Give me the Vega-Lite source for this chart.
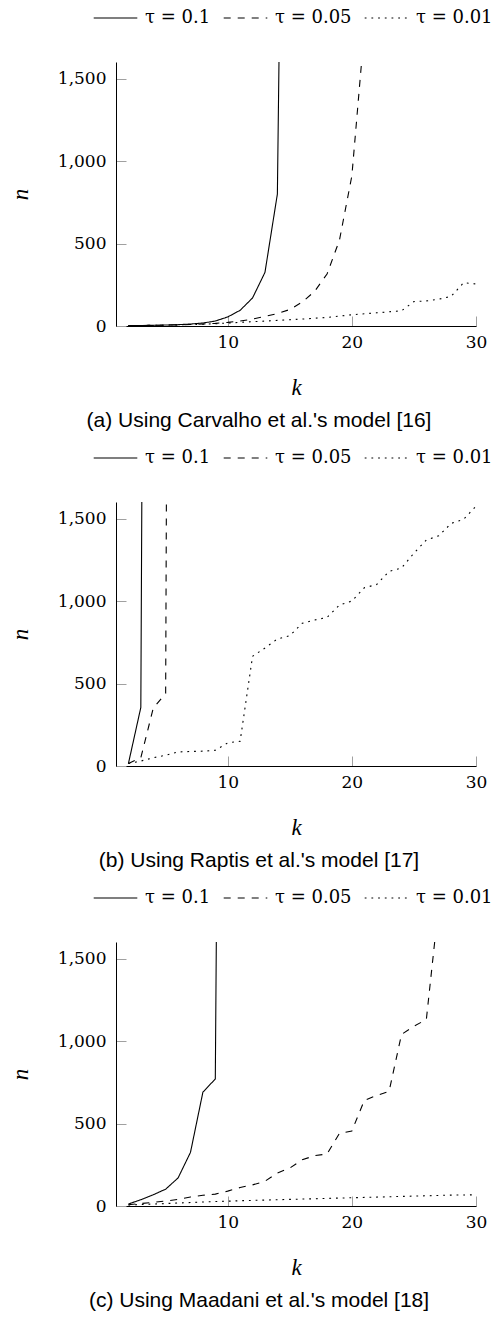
{
  "$schema": "https://vega.github.io/schema/vega-lite/v6.json",
  "padding": {"left": 9, "top": 8, "right": 5, "bottom": 5},
  "background": "white",
  "datasets": {
    "a": [
      {"k": 2, "n": 2, "tau": "τ = 0.1"}, {"k": 3, "n": 3, "tau": "τ = 0.1"}, {"k": 4, "n": 4, "tau": "τ = 0.1"}, {"k": 5, "n": 6, "tau": "τ = 0.1"}, {"k": 6, "n": 8, "tau": "τ = 0.1"}, {"k": 7, "n": 12, "tau": "τ = 0.1"}, {"k": 8, "n": 18, "tau": "τ = 0.1"}, {"k": 9, "n": 30, "tau": "τ = 0.1"}, {"k": 10, "n": 55, "tau": "τ = 0.1"}, {"k": 11, "n": 95, "tau": "τ = 0.1"}, {"k": 12, "n": 170, "tau": "τ = 0.1"}, {"k": 13, "n": 325, "tau": "τ = 0.1"}, {"k": 14, "n": 800, "tau": "τ = 0.1"}, {"k": 15, "n": 7000, "tau": "τ = 0.1"},
      {"k": 2, "n": 2, "tau": "τ = 0.05"}, {"k": 3, "n": 3, "tau": "τ = 0.05"}, {"k": 4, "n": 4, "tau": "τ = 0.05"}, {"k": 5, "n": 5, "tau": "τ = 0.05"}, {"k": 6, "n": 7, "tau": "τ = 0.05"}, {"k": 7, "n": 9, "tau": "τ = 0.05"}, {"k": 8, "n": 12, "tau": "τ = 0.05"}, {"k": 9, "n": 16, "tau": "τ = 0.05"}, {"k": 10, "n": 22, "tau": "τ = 0.05"}, {"k": 11, "n": 30, "tau": "τ = 0.05"}, {"k": 12, "n": 42, "tau": "τ = 0.05"}, {"k": 13, "n": 58, "tau": "τ = 0.05"}, {"k": 14, "n": 75, "tau": "τ = 0.05"}, {"k": 15, "n": 100, "tau": "τ = 0.05"}, {"k": 16, "n": 145, "tau": "τ = 0.05"}, {"k": 17, "n": 210, "tau": "τ = 0.05"}, {"k": 18, "n": 315, "tau": "τ = 0.05"}, {"k": 19, "n": 520, "tau": "τ = 0.05"}, {"k": 20, "n": 910, "tau": "τ = 0.05"}, {"k": 21, "n": 1790, "tau": "τ = 0.05"},
      {"k": 2, "n": 2, "tau": "τ = 0.01"}, {"k": 3, "n": 3, "tau": "τ = 0.01"}, {"k": 4, "n": 4, "tau": "τ = 0.01"}, {"k": 5, "n": 5, "tau": "τ = 0.01"}, {"k": 6, "n": 7, "tau": "τ = 0.01"}, {"k": 7, "n": 9, "tau": "τ = 0.01"}, {"k": 8, "n": 11, "tau": "τ = 0.01"}, {"k": 9, "n": 14, "tau": "τ = 0.01"}, {"k": 10, "n": 18, "tau": "τ = 0.01"}, {"k": 11, "n": 22, "tau": "τ = 0.01"}, {"k": 12, "n": 26, "tau": "τ = 0.01"}, {"k": 13, "n": 30, "tau": "τ = 0.01"}, {"k": 14, "n": 34, "tau": "τ = 0.01"}, {"k": 15, "n": 38, "tau": "τ = 0.01"}, {"k": 16, "n": 42, "tau": "τ = 0.01"}, {"k": 17, "n": 47, "tau": "τ = 0.01"}, {"k": 18, "n": 52, "tau": "τ = 0.01"}, {"k": 19, "n": 60, "tau": "τ = 0.01"}, {"k": 20, "n": 68, "tau": "τ = 0.01"}, {"k": 21, "n": 74, "tau": "τ = 0.01"}, {"k": 22, "n": 80, "tau": "τ = 0.01"}, {"k": 23, "n": 86, "tau": "τ = 0.01"}, {"k": 24, "n": 92, "tau": "τ = 0.01"}, {"k": 25, "n": 148, "tau": "τ = 0.01"}, {"k": 26, "n": 152, "tau": "τ = 0.01"}, {"k": 27, "n": 162, "tau": "τ = 0.01"}, {"k": 28, "n": 180, "tau": "τ = 0.01"}, {"k": 29, "n": 262, "tau": "τ = 0.01"}, {"k": 30, "n": 255, "tau": "τ = 0.01"}
    ],
    "b": [
      {"k": 2, "n": 15, "tau": "τ = 0.1"}, {"k": 3, "n": 355, "tau": "τ = 0.1"}, {"k": 4, "n": 16000, "tau": "τ = 0.1"},
      {"k": 2, "n": 15, "tau": "τ = 0.05"}, {"k": 3, "n": 50, "tau": "τ = 0.05"}, {"k": 4, "n": 350, "tau": "τ = 0.05"}, {"k": 5, "n": 440, "tau": "τ = 0.05"}, {"k": 6, "n": 20000, "tau": "τ = 0.05"},
      {"k": 2, "n": 15, "tau": "τ = 0.01"}, {"k": 3, "n": 30, "tau": "τ = 0.01"}, {"k": 4, "n": 50, "tau": "τ = 0.01"}, {"k": 5, "n": 65, "tau": "τ = 0.01"}, {"k": 6, "n": 85, "tau": "τ = 0.01"}, {"k": 7, "n": 88, "tau": "τ = 0.01"}, {"k": 8, "n": 90, "tau": "τ = 0.01"}, {"k": 9, "n": 95, "tau": "τ = 0.01"}, {"k": 10, "n": 140, "tau": "τ = 0.01"}, {"k": 11, "n": 150, "tau": "τ = 0.01"}, {"k": 12, "n": 665, "tau": "τ = 0.01"}, {"k": 13, "n": 715, "tau": "τ = 0.01"}, {"k": 14, "n": 770, "tau": "τ = 0.01"}, {"k": 15, "n": 790, "tau": "τ = 0.01"}, {"k": 16, "n": 865, "tau": "τ = 0.01"}, {"k": 17, "n": 885, "tau": "τ = 0.01"}, {"k": 18, "n": 900, "tau": "τ = 0.01"}, {"k": 19, "n": 975, "tau": "τ = 0.01"}, {"k": 20, "n": 1000, "tau": "τ = 0.01"}, {"k": 21, "n": 1080, "tau": "τ = 0.01"}, {"k": 22, "n": 1100, "tau": "τ = 0.01"}, {"k": 23, "n": 1180, "tau": "τ = 0.01"}, {"k": 24, "n": 1200, "tau": "τ = 0.01"}, {"k": 25, "n": 1290, "tau": "τ = 0.01"}, {"k": 26, "n": 1370, "tau": "τ = 0.01"}, {"k": 27, "n": 1395, "tau": "τ = 0.01"}, {"k": 28, "n": 1470, "tau": "τ = 0.01"}, {"k": 29, "n": 1495, "tau": "τ = 0.01"}, {"k": 30, "n": 1575, "tau": "τ = 0.01"}
    ],
    "c": [
      {"k": 2, "n": 12, "tau": "τ = 0.1"}, {"k": 3, "n": 38, "tau": "τ = 0.1"}, {"k": 4, "n": 68, "tau": "τ = 0.1"}, {"k": 5, "n": 102, "tau": "τ = 0.1"}, {"k": 6, "n": 170, "tau": "τ = 0.1"}, {"k": 7, "n": 325, "tau": "τ = 0.1"}, {"k": 8, "n": 690, "tau": "τ = 0.1"}, {"k": 9, "n": 770, "tau": "τ = 0.1"}, {"k": 10, "n": 11000, "tau": "τ = 0.1"},
      {"k": 2, "n": 8, "tau": "τ = 0.05"}, {"k": 3, "n": 15, "tau": "τ = 0.05"}, {"k": 4, "n": 22, "tau": "τ = 0.05"}, {"k": 5, "n": 30, "tau": "τ = 0.05"}, {"k": 6, "n": 40, "tau": "τ = 0.05"}, {"k": 7, "n": 55, "tau": "τ = 0.05"}, {"k": 8, "n": 65, "tau": "τ = 0.05"}, {"k": 9, "n": 72, "tau": "τ = 0.05"}, {"k": 10, "n": 90, "tau": "τ = 0.05"}, {"k": 11, "n": 112, "tau": "τ = 0.05"}, {"k": 12, "n": 128, "tau": "τ = 0.05"}, {"k": 13, "n": 150, "tau": "τ = 0.05"}, {"k": 14, "n": 200, "tau": "τ = 0.05"}, {"k": 15, "n": 230, "tau": "τ = 0.05"}, {"k": 16, "n": 280, "tau": "τ = 0.05"}, {"k": 17, "n": 305, "tau": "τ = 0.05"}, {"k": 18, "n": 315, "tau": "τ = 0.05"}, {"k": 19, "n": 440, "tau": "τ = 0.05"}, {"k": 20, "n": 455, "tau": "τ = 0.05"}, {"k": 21, "n": 640, "tau": "τ = 0.05"}, {"k": 22, "n": 670, "tau": "τ = 0.05"}, {"k": 23, "n": 695, "tau": "τ = 0.05"}, {"k": 24, "n": 1040, "tau": "τ = 0.05"}, {"k": 25, "n": 1090, "tau": "τ = 0.05"}, {"k": 26, "n": 1130, "tau": "τ = 0.05"}, {"k": 27, "n": 1830, "tau": "τ = 0.05"},
      {"k": 2, "n": 6, "tau": "τ = 0.01"}, {"k": 3, "n": 9, "tau": "τ = 0.01"}, {"k": 4, "n": 12, "tau": "τ = 0.01"}, {"k": 5, "n": 15, "tau": "τ = 0.01"}, {"k": 6, "n": 18, "tau": "τ = 0.01"}, {"k": 7, "n": 21, "tau": "τ = 0.01"}, {"k": 8, "n": 24, "tau": "τ = 0.01"}, {"k": 9, "n": 27, "tau": "τ = 0.01"}, {"k": 10, "n": 29, "tau": "τ = 0.01"}, {"k": 11, "n": 32, "tau": "τ = 0.01"}, {"k": 12, "n": 34, "tau": "τ = 0.01"}, {"k": 13, "n": 36, "tau": "τ = 0.01"}, {"k": 14, "n": 38, "tau": "τ = 0.01"}, {"k": 15, "n": 40, "tau": "τ = 0.01"}, {"k": 16, "n": 42, "tau": "τ = 0.01"}, {"k": 17, "n": 44, "tau": "τ = 0.01"}, {"k": 18, "n": 46, "tau": "τ = 0.01"}, {"k": 19, "n": 48, "tau": "τ = 0.01"}, {"k": 20, "n": 50, "tau": "τ = 0.01"}, {"k": 21, "n": 52, "tau": "τ = 0.01"}, {"k": 22, "n": 54, "tau": "τ = 0.01"}, {"k": 23, "n": 56, "tau": "τ = 0.01"}, {"k": 24, "n": 58, "tau": "τ = 0.01"}, {"k": 25, "n": 60, "tau": "τ = 0.01"}, {"k": 26, "n": 62, "tau": "τ = 0.01"}, {"k": 27, "n": 64, "tau": "τ = 0.01"}, {"k": 28, "n": 66, "tau": "τ = 0.01"}, {"k": 29, "n": 67, "tau": "τ = 0.01"}, {"k": 30, "n": 68, "tau": "τ = 0.01"}
    ]
  },
  "config": {
    "view": {"stroke": null},
    "font": "Liberation Serif",
    "axis": {
      "grid": false,
      "domainColor": "black",
      "domainWidth": 1,
      "tickColor": "#a0a0a0",
      "tickWidth": 1,
      "tickSize": -10,
      "labelFlush": false,
      "labelFont": "DejaVu Serif",
      "labelFontSize": 17,
      "labelColor": "black",
      "titleFont": "Liberation Serif",
      "titleFontStyle": "italic",
      "titleFontWeight": "normal",
      "titleFontSize": 23,
      "titleColor": "black"
    },
    "axisX": {"labelPadding": 18, "titlePadding": 26},
    "axisY": {"labelPadding": 20, "titlePadding": 25},
    "legend": {
      "orient": "none",
      "direction": "horizontal",
      "legendX": -23,
      "legendY": -54,
      "symbolType": "stroke",
      "symbolSize": 1900,
      "clipHeight": 20,
      "symbolStrokeWidth": 1,
      "symbolStrokeColor": "black",
      "labelFont": "DejaVu Serif",
      "labelFontSize": 18,
      "labelColor": "black",
      "labelOffset": 7,
      "columnPadding": 12,
      "labelLimit": 300
    },
    "title": {
      "orient": "bottom",
      "anchor": "middle",
      "frame": "group",
      "dx": -37,
      "font": "Liberation Sans",
      "fontSize": 21,
      "fontWeight": "normal",
      "color": "black",
      "offset": 11
    }
  },
  "spacing": 17,
  "resolve": {"scale": {"strokeDash": "independent", "strokeWidth": "independent"}, "legend": {"strokeDash": "independent"}},
  "vconcat": [
    {
      "data": {"name": "a"},
      "title": "(a) Using Carvalho et al.'s model [16]",
      "width": 360,
      "height": 264,
      "mark": {"type": "line", "color": "black", "clip": true},
      "encoding": {
        "x": {"field": "k", "type": "quantitative", "title": "k", "scale": {"domain": [1, 30], "nice": false, "zero": false}, "axis": {"values": [10, 20, 30]}},
        "y": {"field": "n", "type": "quantitative", "title": "n", "scale": {"domain": [0, 1600], "nice": false}, "axis": {"values": [0, 500, 1000, 1500], "format": ",d"}},
        "strokeDash": {"field": "tau", "type": "nominal", "scale": {"domain": ["τ = 0.1", "τ = 0.05", "τ = 0.01"], "range": [[1, 0], [7, 7], [1.8, 4.9]]}, "legend": {"title": null}},
        "strokeWidth": {"field": "tau", "type": "nominal", "scale": {"domain": ["τ = 0.1", "τ = 0.05", "τ = 0.01"], "range": [1.1, 1.1, 1.8]}, "legend": null}
      }
    },
    {
      "data": {"name": "b"},
      "title": "(b) Using Raptis et al.'s model [17]",
      "width": 360,
      "height": 264,
      "mark": {"type": "line", "color": "black", "clip": true},
      "encoding": {
        "x": {"field": "k", "type": "quantitative", "title": "k", "scale": {"domain": [1, 30], "nice": false, "zero": false}, "axis": {"values": [10, 20, 30]}},
        "y": {"field": "n", "type": "quantitative", "title": "n", "scale": {"domain": [0, 1600], "nice": false}, "axis": {"values": [0, 500, 1000, 1500], "format": ",d"}},
        "strokeDash": {"field": "tau", "type": "nominal", "scale": {"domain": ["τ = 0.1", "τ = 0.05", "τ = 0.01"], "range": [[1, 0], [7, 7], [1.8, 4.9]]}, "legend": {"title": null}},
        "strokeWidth": {"field": "tau", "type": "nominal", "scale": {"domain": ["τ = 0.1", "τ = 0.05", "τ = 0.01"], "range": [1.1, 1.1, 1.8]}, "legend": null}
      }
    },
    {
      "data": {"name": "c"},
      "title": "(c) Using Maadani et al.'s model [18]",
      "width": 360,
      "height": 264,
      "mark": {"type": "line", "color": "black", "clip": true},
      "encoding": {
        "x": {"field": "k", "type": "quantitative", "title": "k", "scale": {"domain": [1, 30], "nice": false, "zero": false}, "axis": {"values": [10, 20, 30]}},
        "y": {"field": "n", "type": "quantitative", "title": "n", "scale": {"domain": [0, 1600], "nice": false}, "axis": {"values": [0, 500, 1000, 1500], "format": ",d"}},
        "strokeDash": {"field": "tau", "type": "nominal", "scale": {"domain": ["τ = 0.1", "τ = 0.05", "τ = 0.01"], "range": [[1, 0], [7, 7], [1.8, 4.9]]}, "legend": {"title": null}},
        "strokeWidth": {"field": "tau", "type": "nominal", "scale": {"domain": ["τ = 0.1", "τ = 0.05", "τ = 0.01"], "range": [1.1, 1.1, 1.8]}, "legend": null}
      }
    }
  ]
}
